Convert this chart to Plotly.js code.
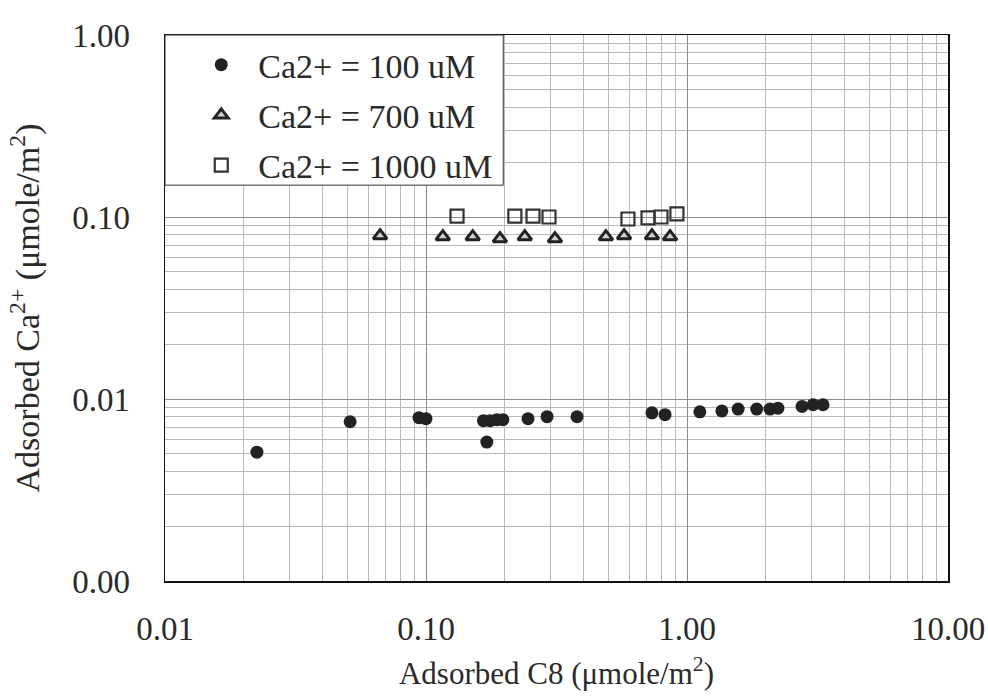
<!DOCTYPE html>
<html>
<head>
<meta charset="utf-8">
<script src="https://cdn.plot.ly/plotly-3.0.1.min.js"></script>
<style>html,body{margin:0;padding:0;background:#fff;}#chart{width:988px;height:696px;}</style>
</head>
<body>
<div id="chart"></div>
<script>
// Ca2+ = 100 uM
const ca100X = [0.0225, 0.0512, 0.094, 0.100, 0.166, 0.171, 0.176, 0.187, 0.197, 0.246, 0.291, 0.379, 0.734, 0.824, 1.12, 1.36, 1.57, 1.85, 2.08, 2.23, 2.76, 3.04, 3.32];
const ca100Y = [0.0051, 0.0075, 0.0079, 0.0078, 0.0076, 0.0058, 0.0076, 0.0077, 0.0077, 0.0078, 0.0080, 0.0080, 0.0084, 0.0082, 0.0085, 0.0086, 0.0088, 0.0088, 0.0088, 0.0089, 0.0091, 0.0093, 0.0093];
// Ca2+ = 700 uM
const ca700X = [0.0667, 0.116, 0.151, 0.192, 0.239, 0.312, 0.489, 0.574, 0.734, 0.861];
const ca700Y = [0.079, 0.078, 0.078, 0.076, 0.078, 0.076, 0.078, 0.079, 0.079, 0.078];
// Ca2+ = 1000 uM
const ca1000X = [0.1315, 0.219, 0.257, 0.296, 0.594, 0.709, 0.795, 0.915];
const ca1000Y = [0.101, 0.101, 0.101, 0.100, 0.0975, 0.099, 0.100, 0.104];

const seriesNames = ['Ca2+ = 100 uM', 'Ca2+ = 700 uM', 'Ca2+ = 1000 uM'];
const xTickVals = [0.01, 0.1, 1, 10];
const xTickText = ['0.01', '0.10', '1.00', '10.00'];
const yTickVals = [0.001, 0.01, 0.1, 1];
const yTickText = ['0.00', '0.01', '0.10', '1.00'];

const FONT = "'Liberation Serif', 'Times New Roman', Times, serif";
const TXT = '#2a2a2a';

const traces = [
  {x: ca100X, y: ca100Y, name: seriesNames[0], mode: 'markers', type: 'scatter', legendgroup: 'a',
   marker: {symbol: 'circle', size: 13, color: '#222'}},
  {x: ca700X, y: ca700Y, name: seriesNames[1], mode: 'markers', type: 'scatter', legendgroup: 'b',
   marker: {symbol: 'triangle-up', size: 12, color: '#cfcfcf', line: {color: '#222', width: 3}}},
  {x: ca1000X, y: ca1000Y, name: seriesNames[2], mode: 'markers', type: 'scatter', legendgroup: 'c',
   marker: {symbol: 'square-open', size: 13, color: '#333', line: {width: 2.2}}}
];

function axisBase() {
  return {
    type: 'log', showline: true, mirror: true, linecolor: '#111', linewidth: 1.5,
    ticks: '', showgrid: true, gridcolor: '#8c8c8c', gridwidth: 1, zeroline: false,
    tickmode: 'array', tickfont: {family: FONT, size: 33, color: TXT},
    minor: {showgrid: true, gridcolor: '#b8b8b8', gridwidth: 1, dtick: 'D1', ticks: ''}
  };
}

const layout = {
  width: 988, height: 696,
  paper_bgcolor: '#fff', plot_bgcolor: '#fff',
  margin: {l: 165, r: 40, t: 35, b: 115},
  font: {family: FONT, color: TXT, size: 30},
  showlegend: true,
  xaxis: Object.assign(axisBase(), {
    range: [-2, 1], tickvals: xTickVals, ticktext: xTickText, ticklabelstandoff: 18,
    title: {text: 'Adsorbed C8 (μmole/m<sup>2</sup>)', font: {family: FONT, size: 31, color: TXT}, standoff: 16}
  }),
  yaxis: Object.assign(axisBase(), {
    range: [-3, 0], tickvals: yTickVals, ticktext: yTickText, ticklabelstandoff: 27,
    title: {text: 'Adsorbed Ca<sup>2+</sup> (μmole/m<sup>2</sup>)', font: {family: FONT, size: 34, color: TXT}, standoff: 22}
  }),
  legend: {
    x: 0.0246, y: 0.998, xanchor: 'left', yanchor: 'top',
    bgcolor: 'rgba(0,0,0,0)', borderwidth: 0,
    font: {family: FONT, size: 34, color: TXT},
    traceorder: 'grouped', tracegroupgap: 3, itemwidth: 64
  },
  shapes: [{
    type: 'rect', xref: 'paper', yref: 'paper', x0: 0, x1: 0.432, y0: 0.725, y1: 1,
    fillcolor: '#fff', line: {color: '#333', width: 1}, layer: 'above'
  }]
};

Plotly.newPlot('chart', traces, layout, {displayModeBar: false, staticPlot: true});
</script>
</body>
</html>
